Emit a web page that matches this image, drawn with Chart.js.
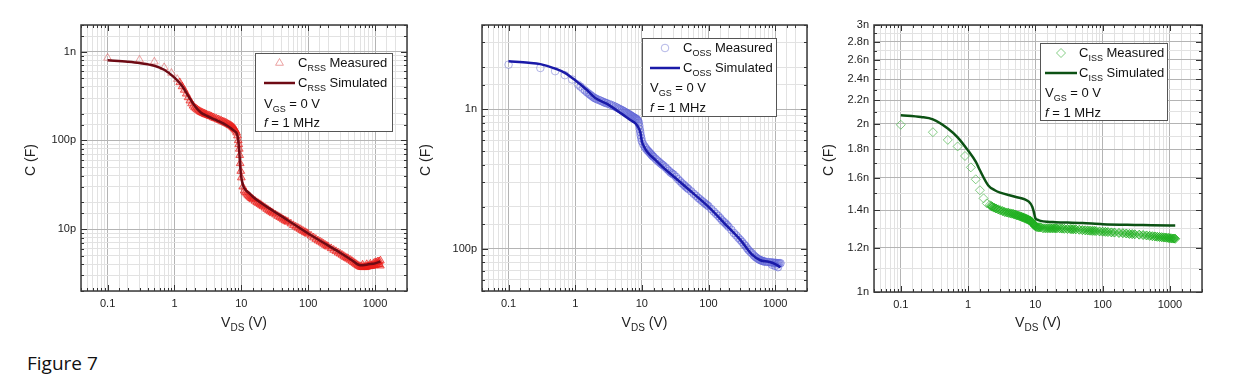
<!DOCTYPE html>
<html><head><meta charset="utf-8">
<script src="https://cdn.jsdelivr.net/npm/chart.js@4.4.1/dist/chart.umd.min.js"></script>
<style>
html,body{margin:0;padding:0;background:#fff;}
#wrap{position:relative;width:1240px;height:390px;overflow:hidden;background:#fff;}
canvas{position:absolute;top:0;}
#fig{position:absolute;left:27px;top:354px;font:19px/19px "Open Sans",sans-serif;color:#111;}
</style></head><body>
<div id="wrap">
<canvas id="c1" width="420" height="340" style="left:0;width:420px;height:340px"></canvas>
<canvas id="c2" width="420" height="340" style="left:410px;width:420px;height:340px"></canvas>
<canvas id="c3" width="420" height="340" style="left:820px;width:420px;height:340px"></canvas>
<div id="fig">Figure 7</div>
</div>
<script>
const FONT = '"Liberation Sans", Arial, sans-serif';
const MAJ = '#b4b4b4', MIN = '#e2e2e2';

// x axis (V_DS, volts)
const vdsMin = 0.04, vdsMax = 3000;
const vdsLabels = {'-1': '0.1', '0': '1', '1': '10', '2': '100', '3': '1000'};

// --- C_RSS (pF) ---
const crssSimV = [0.1,0.2,0.3,0.5,0.7,1,1.3,1.6,2,2.5,3,4,5,6,7,8,8.6,9,9.3,9.6,10,10.5,11,13,15,20,30,50,100,200,300,450,600,800,1000,1200];
const crssSimC = [800,770,745,695,625,510,410,320,245,205,190,172,160,148,137,126,118,100,75,52,38,32,29,25.5,23,19.5,16,12.5,8.9,6.5,5.4,4.45,3.9,4.0,4.1,4.3];
const crssMeasV = [0.1,0.3,0.5,0.7,0.9,1.1,1.2,1.3,1.4,1.5,1.6,1.7,1.8,1.9,2,2.2,2.4,2.6,2.8,3,3.3,3.6,4,4.5,5,5.5,6,6.5,7,7.5,8,8.5,9,9.3,9.6,10,10.5,11,12,13,14,15,17,19,21,24,27,30,35,40,45,50,60,70,80,90,100,120,140,160,180,200,240,280,320,360,400,450,500,550,600,650,700,750,800,850,900,1000,1100,1200,1000,1100,1200];
const crssMeasC = [850,810,770,665,575,490,450,405,370,335,305,280,260,245,235,222,212,205,200,195,190,185,178,172,166,161,156,151,146,140,133,122,100,80,55,38,30,27,25,23.5,22.3,21.5,20,19,18,16.8,15.8,15,14,13.2,12.5,12,11,10.3,9.7,9.2,8.8,8,7.4,7,6.6,6.3,5.8,5.4,5.1,4.8,4.6,4.35,4.1,3.9,3.75,3.7,3.7,3.75,3.8,3.85,3.85,3.9,4.0,3.85,4.2,4.3,4.4];
const crssDenseV = [2.1,2.3,2.5,2.7,2.9,3.15,3.45,3.8,4.25,4.75,5.25,5.75,6.25,6.75,7.25,7.75,8.25,8.75,9.15,9.45,9.8,11.5,12.5,13.5,14.5,16,18,20,22.5,25.5,28.5,32.5,37.5,42.5,47.5,55,65,75,85,95,110,130,150,170,190,220,260,300,340,380,425,475,525,575,625,675,725,775,825,875,950,1050,1150,650,750,850,950,1050,1150];
const crssDenseC = [228,217,208,202,197,192,187,181,175,169,163,158,153,148,143,137,128,113,90,68,45,26,24.2,22.9,21.9,20.7,19.5,18.5,17.4,16.3,15.4,14.5,13.6,12.8,12.2,11.5,10.6,10,9.45,9,8.4,7.7,7.2,6.8,6.45,6.05,5.6,5.25,4.95,4.7,4.47,4.22,4.0,3.82,3.72,3.7,3.72,3.77,3.8,3.82,3.87,3.95,4.0,3.95,4.0,4.05,4.1,4.2,4.3];

// --- C_OSS (pF) ---
const cossSimV = [0.1,0.2,0.3,0.5,0.7,1,1.5,2,3,5,7,8,9,9.5,10,11,12,15,20,30,50,100,200,300,450,600,800,1000,1200];
const cossSimC = [2200,2150,2100,1950,1820,1610,1370,1200,1090,925,825,790,730,680,590,530,495,445,390,330,267,200,142,116,91,83,81,78,74];
const cossMeasV = [0.1,0.3,0.5,0.7,0.9,1.1,1.3,1.5,1.7,1.9,2.1,2.4,2.7,3,3.5,4,4.5,5,5.5,6,6.5,7,7.5,8,8.5,9,9.3,9.6,10,10.5,11,12,13,14,15,17,19,21,24,27,30,35,40,45,50,60,70,80,90,100,120,140,160,180,200,240,280,320,360,400,450,500,550,600,650,700,800,900,1000,1100,1200,900,1000,1100];
const cossMeasC = [2080,1970,1870,1750,1630,1500,1400,1320,1260,1210,1180,1150,1120,1100,1070,1040,1010,985,960,935,915,895,875,860,840,800,720,650,590,560,540,510,490,470,455,430,410,395,372,352,340,315,295,280,268,248,232,220,210,202,185,172,160,152,144,130,120,112,105,98,93,88,85,83,82,81,80.5,80,79.5,79,79,77,75.5,74];
const cossDenseV = [1.2,1.4,1.6,1.8,2.0,2.25,2.55,2.85,3.25,3.75,4.25,4.75,5.25,5.75,6.25,6.75,7.25,7.75,8.25,8.75,9.15,9.45,9.8,11.5,12.5,13.5,14.5,16,18,20,22.5,25.5,28.5,32.5,37.5,42.5,47.5,55,65,75,85,95,110,130,150,170,190,220,260,300,340,380,425,475,525,575,625,675,750,850,950,1050,1150];
const cossDenseC = [1450,1360,1290,1235,1195,1165,1135,1110,1085,1055,1025,997,972,947,925,905,885,867,850,825,760,685,620,525,500,480,462,442,420,402,384,362,346,328,305,288,274,258,240,226,215,206,193,178,166,156,148,137,125,116,108,101,95,90,86.5,84,82.5,81.5,80.7,80.2,79.7,79.2,79];

// --- C_ISS (nF) ---
const cissSimV = [0.1,0.2,0.3,0.5,0.7,1,1.3,1.5,2,2.5,3,5,8,9,9.5,10,11,12,15,20,50,100,300,1000,1200];
const cissSimC = [2.07,2.055,2.035,1.96,1.89,1.79,1.71,1.65,1.55,1.52,1.505,1.48,1.45,1.42,1.39,1.355,1.345,1.34,1.335,1.333,1.328,1.322,1.318,1.315,1.315];
const cissMeasV = [0.1,0.3,0.5,0.7,0.9,1.1,1.3,1.5,1.7,1.9,2.1,2.3,2.6,3,3.5,4,4.5,5,5.5,6,6.5,7,7.5,8,8.5,9,9.5,10,11,12,13,15,17,19,21,25,30,35,40,50,60,70,80,100,120,150,200,250,300,400,500,600,700,800,900,1000,1100,1200];
const cissMeasC = [1.99,1.93,1.87,1.82,1.75,1.67,1.59,1.52,1.47,1.44,1.43,1.42,1.41,1.40,1.39,1.385,1.38,1.375,1.37,1.365,1.36,1.355,1.35,1.345,1.34,1.33,1.32,1.31,1.305,1.305,1.30,1.30,1.30,1.30,1.30,1.298,1.296,1.295,1.294,1.29,1.288,1.286,1.285,1.282,1.28,1.277,1.274,1.27,1.268,1.264,1.26,1.257,1.254,1.252,1.25,1.248,1.246,1.245];
const cissDenseV = [2.2,2.45,2.8,3.25,3.75,4.25,4.75,5.25,5.75,6.25,6.75,7.25,7.75,8.25,8.75,9.25,9.75,10.5,11.5,14,16,18,20,23,27,33,37,45,55,65,75,90,110,135,175,225,275,350,450,550,650,750,850,950,1050,1150];
const cissDenseC = [1.425,1.415,1.405,1.395,1.387,1.382,1.378,1.372,1.367,1.362,1.357,1.352,1.347,1.342,1.336,1.325,1.315,1.307,1.305,1.30,1.30,1.30,1.30,1.299,1.297,1.296,1.295,1.292,1.289,1.287,1.286,1.283,1.281,1.278,1.275,1.272,1.269,1.266,1.262,1.258,1.255,1.253,1.251,1.249,1.247,1.246];
const cissTicks = [1,1.1,1.2,1.3,1.4,1.5,1.6,1.7,1.8,1.9,2,2.1,2.2,2.3,2.4,2.5,2.6,2.7,2.8,2.9,3];
const cissMajor = [1,1.2,1.4,1.6,1.8,2,2.2,2.4,2.6,2.8,3];

function pts(xs, ys) { return xs.map((x, i) => ({x: x, y: ys[i]})); }
function decade(v) { const l = Math.log10(v); return Math.abs(l - Math.round(l)) < 1e-6; }
function onList(v, list) { return list.some(m => Math.abs(m - v) < 1e-6); }

function fontFor(kind, size) {
    if (kind === 's') return Math.round(size * 0.68) + 'px ' + FONT;
    if (kind === 'i') return 'italic ' + size + 'px ' + FONT;
    return size + 'px ' + FONT;
}
function richWidth(ctx, parts, size) {
    let w = 0;
    parts.forEach(p => { ctx.font = fontFor(p[1], size); w += ctx.measureText(p[0]).width; });
    return w;
}
function drawRich(ctx, parts, x, y, size) {
    ctx.textBaseline = 'alphabetic';
    ctx.textAlign = 'left';
    parts.forEach(p => {
        ctx.font = fontFor(p[1], size);
        ctx.fillText(p[0], x, p[1] === 's' ? y + size * 0.3 : y);
        x += ctx.measureText(p[0]).width;
    });
}
function marker(ctx, style, x, y, r) {
    ctx.beginPath();
    if (style === 'triangle') {
        ctx.moveTo(x, y - r); ctx.lineTo(x + r * 0.87, y + r * 0.5); ctx.lineTo(x - r * 0.87, y + r * 0.5); ctx.closePath();
    } else if (style === 'rectRot') {
        ctx.moveTo(x, y - r); ctx.lineTo(x + r, y); ctx.lineTo(x, y + r); ctx.lineTo(x - r, y); ctx.closePath();
    } else {
        ctx.arc(x, y, r, 0, Math.PI * 2);
    }
    ctx.stroke();
}

function decor(p) {
    return {
        id: 'decor',
        afterDraw(chart) {
            const ctx = chart.ctx, a = chart.chartArea, xs = chart.scales.x, ys = chart.scales.y;
            ctx.save();
            // inward ticks on all sides
            ctx.strokeStyle = '#333'; ctx.lineWidth = 1;
            ctx.beginPath();
            xs.ticks.forEach(t => {
                const px = Math.round(xs.getPixelForValue(t.value)) + 0.5;
                const len = decade(t.value) ? 6 : 3;
                ctx.moveTo(px, a.bottom); ctx.lineTo(px, a.bottom - len);
                ctx.moveTo(px, a.top); ctx.lineTo(px, a.top + len);
            });
            ys.ticks.forEach(t => {
                const py = Math.round(ys.getPixelForValue(t.value)) + 0.5;
                const len = p.yMajor(t.value) ? 6 : 3;
                ctx.moveTo(a.left, py); ctx.lineTo(a.left + len, py);
                ctx.moveTo(a.right, py); ctx.lineTo(a.right - len, py);
            });
            ctx.stroke();
            // frame
            ctx.strokeStyle = '#3a3a3a'; ctx.lineWidth = 1.5;
            ctx.strokeRect(a.left, a.top, a.right - a.left, a.bottom - a.top);
            // axis titles
            ctx.fillStyle = '#222';
            const xt = [['V', ''], ['DS', 's'], [' (V)', '']];
            drawRich(ctx, xt, (a.left + a.right) / 2 - richWidth(ctx, xt, 14) / 2, 327, 14);
            ctx.save();
            ctx.translate(p.yTitleX, 160);
            ctx.rotate(-Math.PI / 2);
            const yt = [['C (F)', '']];
            drawRich(ctx, yt, -richWidth(ctx, yt, 14) / 2, 5, 14);
            ctx.restore();
            // legend
            const L = p.legend;
            ctx.fillStyle = '#fff';
            ctx.fillRect(L.box[0], L.box[1], L.box[2], L.box[3]);
            ctx.strokeStyle = '#555'; ctx.lineWidth = 1;
            ctx.strokeRect(L.box[0] + 0.5, L.box[1] + 0.5, L.box[2], L.box[3]);
            ctx.strokeStyle = p.lightColor; ctx.lineWidth = 1;
            marker(ctx, p.marker, (L.lx1 + L.lx2) / 2, L.rows[0], p.r);
            ctx.strokeStyle = p.lineColor; ctx.lineWidth = 2.5;
            ctx.beginPath(); ctx.moveTo(L.lx1, L.rows[1]); ctx.lineTo(L.lx2, L.rows[1]); ctx.stroke();
            ctx.fillStyle = '#111';
            drawRich(ctx, [['C', ''], [p.sub, 's'], [' Measured', '']], L.tx, L.rows[0] + 4, 13);
            drawRich(ctx, [['C', ''], [p.sub, 's'], [' Simulated', '']], L.tx, L.rows[1] + 4, 13);
            drawRich(ctx, [['V', ''], ['GS', 's'], [' = 0 V', '']], L.lx1, L.rows[2] + 4, 13);
            drawRich(ctx, [['f', 'i'], [' = 1 MHz', '']], L.lx1, L.rows[3] + 4, 13);
            ctx.restore();
        }
    };
}

function makeChart(id, p) {
    const yScale = {
        type: 'logarithmic', min: p.yMin, max: p.yMax,
        afterFit: s => { s.width = p.yw; },
        border: {display: false},
        grid: {drawTicks: false, color: c => (c.tick && p.yMajor(c.tick.value)) ? MAJ : MIN},
        ticks: {autoSkip: false, padding: 5, color: '#222', font: {family: FONT, size: 11},
            callback: v => p.yMajor(v) ? p.yLabel(v) : ''}
    };
    if (p.yTicks) yScale.afterBuildTicks = s => { s.ticks = p.yTicks.map(v => ({value: v})); };
    // the first few measured points are sparse and drawn light, the rest form a dense band
    const sparse = c => c.dataIndex < p.sparseCount;
    return new Chart(document.getElementById(id), {
        type: 'scatter',
        data: {datasets: [
            {label: 'sim', data: pts(p.simV, p.simC), showLine: true, borderColor: p.lineColor, borderWidth: 2.5,
             pointRadius: 0, cubicInterpolationMode: 'monotone', order: 0},
            {label: 'meas', data: pts(p.measV, p.measC).concat(pts(p.denseV, p.denseC)), showLine: false,
             pointStyle: p.marker, pointRadius: p.r, borderWidth: 1, order: 1,
             borderColor: c => sparse(c) ? p.lightColor : p.measColor,
             backgroundColor: c => sparse(c) ? 'rgba(255,255,255,0)' : p.measFill}
        ]},
        options: {
            responsive: false, animation: false, devicePixelRatio: 1, events: [],
            layout: {padding: {top: 25, right: p.right, left: 0, bottom: 0}},
            plugins: {legend: {display: false}, tooltip: {enabled: false}},
            scales: {
                x: {type: 'logarithmic', min: vdsMin, max: vdsMax,
                    afterFit: s => { s.height = p.xh; },
                    border: {display: false},
                    grid: {drawTicks: false, color: c => (c.tick && decade(c.tick.value)) ? MAJ : MIN},
                    ticks: {autoSkip: false, maxRotation: 0, padding: 6, color: '#222', font: {family: FONT, size: 11},
                        callback: v => decade(v) ? vdsLabels[Math.round(Math.log10(v))] : ''}},
                y: yScale
            }
        },
        plugins: [decor(p)]
    });
}

makeChart('c1', {
    simV: crssSimV, simC: crssSimC, measV: crssMeasV, measC: crssMeasC, denseV: crssDenseV, denseC: crssDenseC,
    yMin: 2, yMax: 2000, yMajor: decade,
    yLabel: v => v >= 1000 ? '1n' : Math.round(v) + 'p',
    yw: 81, right: 13, xh: 49, yTitleX: 30, sub: 'RSS', sparseCount: 6,
    lineColor: '#6e0a14', measColor: 'rgba(235,30,25,0.7)', measFill: 'rgba(235,30,25,0.28)',
    lightColor: 'rgba(225,110,110,0.65)', marker: 'triangle', r: 4.5,
    legend: {box: [255, 53, 137, 78], rows: [63, 83, 104, 123], lx1: 264, lx2: 295, tx: 298}
});
makeChart('c2', {
    simV: cossSimV, simC: cossSimC, measV: cossMeasV, measC: cossMeasC, denseV: cossDenseV, denseC: cossDenseC,
    yMin: 50, yMax: 4000, yMajor: decade,
    yLabel: v => v >= 1000 ? '1n' : Math.round(v) + 'p',
    yw: 72, right: 23, xh: 49, yTitleX: 15, sub: 'OSS', sparseCount: 7,
    lineColor: '#1a1aa8', measColor: 'rgba(95,100,215,0.6)', measFill: 'rgba(95,100,215,0.15)',
    lightColor: 'rgba(130,135,215,0.6)', marker: 'circle', r: 3.8,
    legend: {box: [232, 38, 134, 78], rows: [48, 68, 88, 108], lx1: 240, lx2: 270, tx: 273}
});
makeChart('c3', {
    simV: cissSimV, simC: cissSimC, measV: cissMeasV, measC: cissMeasC, denseV: cissDenseV, denseC: cissDenseC,
    yMin: 1, yMax: 3, yMajor: v => onList(v, cissMajor), yTicks: cissTicks,
    yLabel: v => (Math.round(v * 10) / 10) + 'n',
    yw: 54, right: 38, xh: 48, yTitleX: 8, sub: 'ISS', sparseCount: 11,
    lineColor: '#0c5214', measColor: 'rgba(30,175,30,0.8)', measFill: 'rgba(30,175,30,0.4)',
    lightColor: 'rgba(80,185,80,0.7)', marker: 'rectRot', r: 4.5,
    legend: {box: [220, 43, 127, 77], rows: [53, 73, 93, 113], lx1: 225, lx2: 257, tx: 259}
});
</script>
</body></html>
